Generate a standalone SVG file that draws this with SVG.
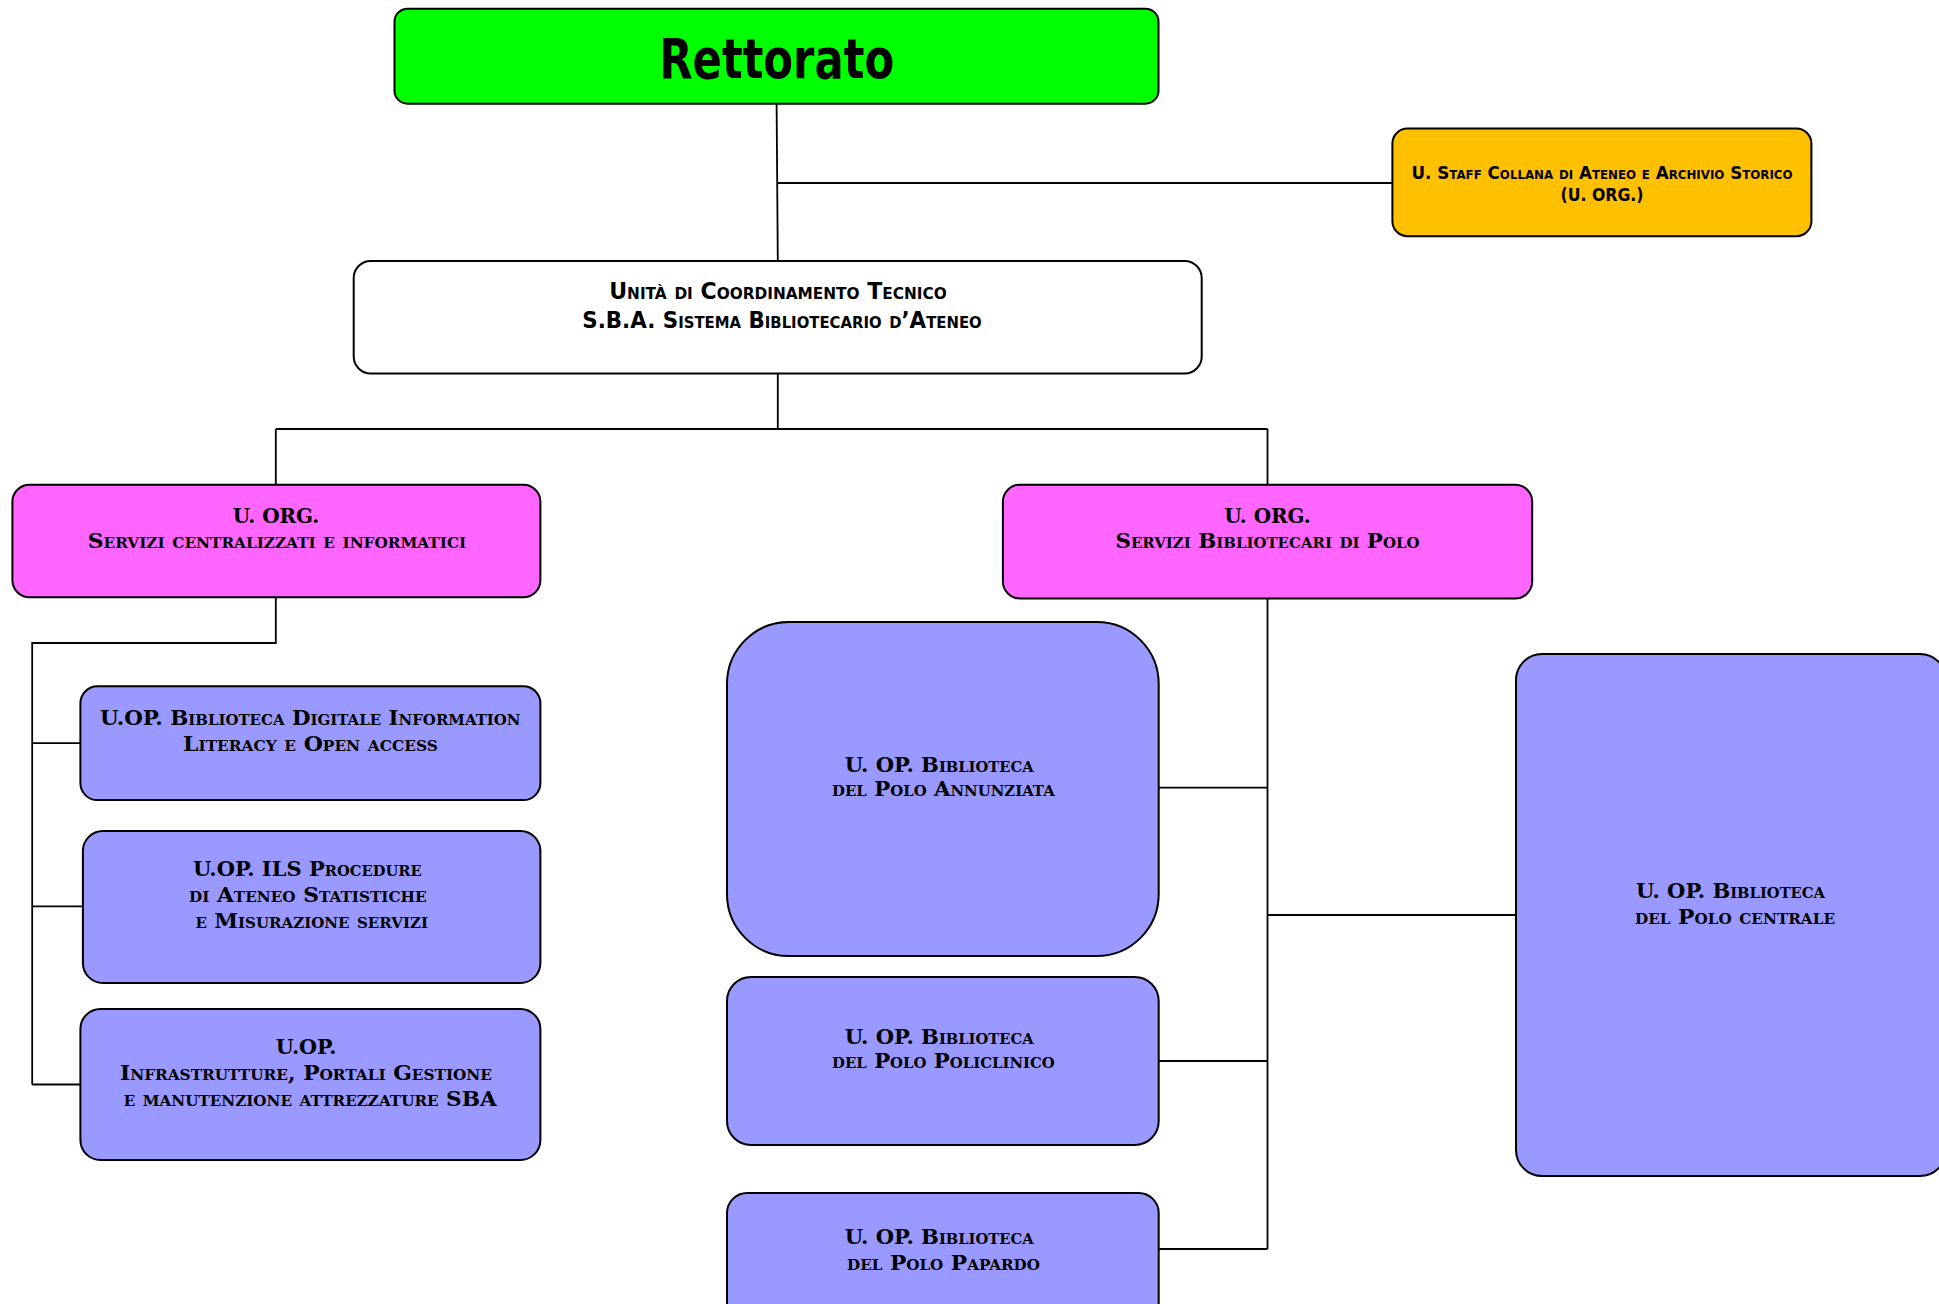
<svg xmlns="http://www.w3.org/2000/svg" width="1939" height="1304" viewBox="0 0 1939 1304">
<style>
.box{stroke:#000;stroke-width:2}
.g{fill:#00ff00}.o{fill:#ffc000}.w{fill:#ffffff}.p{fill:#ff66ff}.b{fill:#9999ff}
.ln{fill:none;stroke:#000;stroke-width:1.8}
.ser{font-family:"DejaVu Serif","Liberation Serif",serif;font-weight:bold;font-variant:small-caps;font-size:20px;fill:#000;text-anchor:middle}
.san{font-family:"DejaVu Sans","Liberation Sans",sans-serif;font-variant:small-caps;font-weight:bold;fill:#000;text-anchor:middle}
</style>
<rect width="1939" height="1304" fill="#ffffff"/>
<g id="connectors">
<path class="ln" d="M776.6 104 L777.8 261"/>
<path class="ln" d="M777 183 H1392"/>
<path class="ln" d="M777.8 373.5 V429 M275.8 429 H1267.5 M275.8 429 V485 M1267.5 429 V485"/>
<path class="ln" d="M275.8 597.3 V643 H32.2 V1084.5 M32.2 743.2 H80.4 M32.2 906.4 H82.9 M32.2 1084.5 H80.4"/>
<path class="ln" d="M1267.5 598.5 V1249 M1158.7 787.7 H1267.5 M1267.5 915 H1516 M1158.7 1061 H1267.5 M1158.7 1249 H1267.5"/>
</g>
<g id="rettorato">
<rect class="box g" x="394.5" y="8.7" width="764" height="95" rx="13"/>
<text x="776.7" y="78" font-family="DejaVu Sans, Liberation Sans, sans-serif" font-weight="bold" font-size="56" text-anchor="middle" textLength="235" lengthAdjust="spacingAndGlyphs">Rettorato</text>
</g>
<g id="staff">
<rect class="box o" x="1392.4" y="128.6" width="419" height="107.6" rx="15"/>
<text class="san" x="1602" y="179" font-size="17" textLength="381" lengthAdjust="spacingAndGlyphs">U. Staff Collana di Ateneo e Archivio Storico</text>
<text class="san" x="1602" y="201" font-size="17" textLength="83" lengthAdjust="spacingAndGlyphs">(U. ORG.)</text>
</g>
<g id="coordinamento">
<rect class="box w" x="353.7" y="261" width="848" height="112.5" rx="17"/>
<text class="san" x="778" y="299" font-size="23" textLength="337.6" lengthAdjust="spacingAndGlyphs">Unità di Coordinamento Tecnico</text>
<text class="san" x="782" y="328" font-size="23" textLength="399.5" lengthAdjust="spacingAndGlyphs">S.B.A. Sistema Bibliotecario d’Ateneo</text>
</g>
<g id="org-centralizzati">
<rect class="box p" x="12.4" y="484.7" width="528" height="112.6" rx="17"/>
<text class="ser" x="276" y="523" textLength="86.5" lengthAdjust="spacingAndGlyphs">U. ORG.</text>
<text class="ser" x="277" y="548" textLength="378.4" lengthAdjust="spacingAndGlyphs">Servizi centralizzati e informatici</text>
</g>
<g id="org-polo">
<rect class="box p" x="1002.9" y="484.7" width="529.3" height="113.8" rx="17"/>
<text class="ser" x="1267.5" y="523" textLength="86.5" lengthAdjust="spacingAndGlyphs">U. ORG.</text>
<text class="ser" x="1267.5" y="548" textLength="304" lengthAdjust="spacingAndGlyphs">Servizi Bibliotecari di Polo</text>
</g>
<g id="uop-digitale">
<rect class="box b" x="80.4" y="686.3" width="460" height="113.8" rx="17"/>
<text class="ser" x="310.3" y="724.6" textLength="420.5" lengthAdjust="spacingAndGlyphs">U.OP. Biblioteca Digitale Information</text>
<text class="ser" x="310.4" y="750.6" textLength="254.8" lengthAdjust="spacingAndGlyphs">Literacy e Open access</text>
</g>
<g id="uop-ils">
<rect class="box b" x="82.9" y="831" width="457.5" height="152" rx="20"/>
<text class="ser" x="307.3" y="875.5" textLength="228.7" lengthAdjust="spacingAndGlyphs">U.OP. ILS Procedure</text>
<text class="ser" x="307.8" y="901.5" textLength="237.6" lengthAdjust="spacingAndGlyphs">di Ateneo Statistiche</text>
<text class="ser" x="311.7" y="927.5" textLength="232.6" lengthAdjust="spacingAndGlyphs">e Misurazione servizi</text>
</g>
<g id="uop-infrastrutture">
<rect class="box b" x="80.4" y="1009" width="460" height="151" rx="20"/>
<text class="ser" x="306.1" y="1053.6" textLength="60.6" lengthAdjust="spacingAndGlyphs">U.OP.</text>
<text class="ser" x="306" y="1079.6" textLength="372" lengthAdjust="spacingAndGlyphs">Infrastrutture, Portali Gestione</text>
<text class="ser" x="310.3" y="1105.5" textLength="373.3" lengthAdjust="spacingAndGlyphs">e manutenzione attrezzature SBA</text>
</g>
<g id="uop-annunziata">
<rect class="box b" x="727" y="622" width="431.7" height="334" rx="62"/>
<text class="ser" x="939.2" y="771.6" textLength="189" lengthAdjust="spacingAndGlyphs">U. OP. Biblioteca</text>
<text class="ser" x="943.4" y="796.4" textLength="222.6" lengthAdjust="spacingAndGlyphs">del Polo Annunziata</text>
</g>
<g id="uop-policlinico">
<rect class="box b" x="727" y="977" width="431.7" height="168" rx="24"/>
<text class="ser" x="939.2" y="1043.7" textLength="189" lengthAdjust="spacingAndGlyphs">U. OP. Biblioteca</text>
<text class="ser" x="943.4" y="1068.4" textLength="222.6" lengthAdjust="spacingAndGlyphs">del Polo Policlinico</text>
</g>
<g id="uop-papardo">
<rect class="box b" x="727" y="1193" width="431.7" height="140" rx="20"/>
<text class="ser" x="939.2" y="1244" textLength="189" lengthAdjust="spacingAndGlyphs">U. OP. Biblioteca</text>
<text class="ser" x="943.5" y="1270" textLength="193" lengthAdjust="spacingAndGlyphs">del Polo Papardo</text>
</g>
<g id="uop-centrale">
<rect class="box b" x="1516" y="654" width="430" height="522" rx="26"/>
<text class="ser" x="1730.5" y="897.8" textLength="189" lengthAdjust="spacingAndGlyphs">U. OP. Biblioteca</text>
<text class="ser" x="1735" y="923.8" textLength="200" lengthAdjust="spacingAndGlyphs">del Polo centrale</text>
</g>
</svg>
